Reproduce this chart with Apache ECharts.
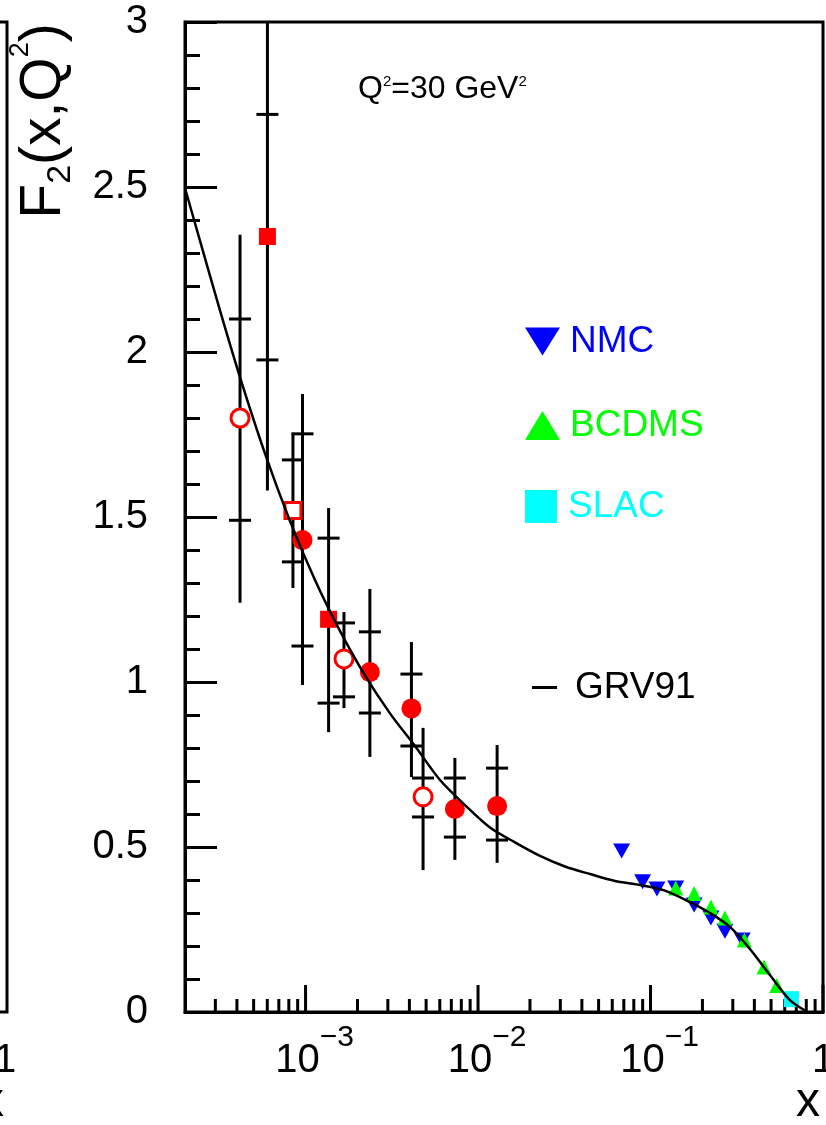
<!DOCTYPE html>
<html>
<head>
<meta charset="utf-8">
<script src="https://cdn.jsdelivr.net/npm/echarts@6/dist/echarts.min.js"></script>
<style>
  html, body { margin: 0; padding: 0; background: #ffffff; }
  #chart { width: 826px; height: 1125px; }
</style>
</head>
<body>
<div id="chart"></div>
<script>
// GRV91 parametrisation of F2 at Q^2 = 30 GeV^2
const grvX  = [2.0e-4, 2.44e-4, 3.19e-4, 4.17e-4, 5.82e-4, 8.12e-4, 1.134e-3, 1.583e-3, 2.211e-3,
               3.086e-3, 4.31e-3, 6.02e-3, 8.40e-3, 1.173e-2, 1.637e-2, 2.286e-2, 3.19e-2,
               4.455e-2, 6.22e-2, 8.68e-2, 0.1212, 0.1693, 0.2211, 0.2887, 0.3771, 0.4924, 0.643, 0.796];
const grvF2 = [2.497, 2.338, 2.126, 1.923, 1.692, 1.488, 1.309, 1.155, 1.020,
               0.905, 0.806, 0.703, 0.627, 0.559, 0.514, 0.473, 0.441,
               0.418, 0.397, 0.385, 0.368, 0.333, 0.300, 0.258, 0.191, 0.112, 0.036, 0.003];

// Fixed-target data
const nmcX    = [0.068, 0.090, 0.109, 0.14, 0.179, 0.224, 0.27, 0.34];
const nmcF2   = [0.488, 0.395, 0.373, 0.376, 0.324, 0.285, 0.245, 0.218];
const bcdmsX  = [0.14, 0.179, 0.224, 0.27, 0.35, 0.455, 0.54];
const bcdmsF2 = [0.376, 0.359, 0.318, 0.285, 0.218, 0.136, 0.080];
const slacX   = [0.656];
const slacF2  = [0.039];

// HERA small-x points: central value, statistical and total error ranges
const heraX      = [4.17e-4, 6.01e-4, 8.45e-4, 9.6e-4, 1.36e-3, 1.67e-3, 2.36e-3, 4.11e-3, 4.80e-3, 7.34e-3, 1.29e-2];
const heraF2     = [1.80, 2.35, 1.52, 1.43, 1.19, 1.07, 1.03, 0.92, 0.652, 0.615, 0.624];
const heraStatLo = [1.49, 1.976, 1.364, 1.109, 0.936, 0.955, 0.906, 0.806, 0.591, 0.530, 0.521];
const heraStatHi = [2.10, 2.72, 1.673, 1.752, 1.436, 1.179, 1.152, 1.024, 0.709, 0.709, 0.739];
const heraTotLo  = [1.24, 1.58, 1.285, 0.991, 0.848, 0.921, 0.773, 0.712, 0.430, 0.461, 0.452];
const heraTotHi  = [2.355, 3.12, 1.755, 1.873, 1.527, 1.212, 1.282, 1.121, 0.861, 0.770, 0.809];
const heraMarker = ['openCircle', 'square', 'openSquare', 'circle', 'square', 'openCircle',
                    'circle', 'circle', 'openCircle', 'circle', 'circle'];

// Axis ranges and tick positions
const xMin = 2e-4, xMax = 1;
const yMin = 0, yMax = 3, yStep = 0.5;
const xMajorTicks = [1e-3, 1e-2, 1e-1, 1];
const xMinorTicks = [3e-4, 4e-4, 5e-4, 6e-4, 7e-4, 8e-4, 9e-4,
                     2e-3, 3e-3, 4e-3, 5e-3, 6e-3, 7e-3, 8e-3, 9e-3,
                     2e-2, 3e-2, 4e-2, 5e-2, 6e-2, 7e-2, 8e-2, 9e-2,
                     0.2, 0.3, 0.4, 0.5, 0.6, 0.7, 0.8, 0.9];

const FONT = "'Liberation Sans', Arial, Helvetica, sans-serif";
const RED = '#ff0000', BLUE = '#0000ff', GREEN = '#00ff00', CYAN = '#00ffff';
const DOWN_TRIANGLE = 'path://M0,0L35,0L17.5,28Z';

function heraPoints(kind) {
  const out = [];
  heraX.forEach((x, i) => { if (heraMarker[i] === kind) out.push([x, heraF2[i]]); });
  return out;
}

function tickSeries(values, len) {
  return {
    type: 'custom', silent: true, z: 1,
    data: values.map(v => [v, yMin]),
    encode: { x: 0, y: 1 },
    renderItem: function (params, api) {
      const p = api.coord([api.value(0), yMin]);
      return {
        type: 'line',
        shape: { x1: p[0], y1: p[1], x2: p[0], y2: p[1] - len },
        style: { stroke: '#000', lineWidth: 3 }
      };
    }
  };
}

const chart = echarts.init(document.getElementById('chart'), null, { renderer: 'canvas' });

const option = {
  animation: false,
  backgroundColor: '#ffffff',
  grid: {
    left: 185, top: 22, right: 3, bottom: 113,
    containLabel: false, outerBoundsMode: 'none',
    show: true, borderColor: '#000', borderWidth: 3, backgroundColor: 'transparent'
  },
  xAxis: {
    type: 'log', logBase: 10, min: xMin, max: xMax,
    axisLine: { show: true, lineStyle: { color: '#000', width: 3 } },
    axisTick: { show: false },
    minorTick: { show: false },
    splitLine: { show: false },
    axisLabel: {
      show: true, interval: 0, margin: 14, color: '#000',
      fontFamily: FONT, showMinLabel: true, showMaxLabel: true,
      formatter: function (v) {
        const l = Math.log10(v);
        const e = Math.round(l);
        if (Math.abs(l - e) > 1e-6) return '';
        if (e === 0) return '{one|1}';
        return '{b|10}{s|\u2212' + (-e) + '}';
      },
      rich: {
        one: { fontSize: 40, fontFamily: FONT, color: '#000', height: 70, verticalAlign: 'top' },
        b: { fontSize: 40, fontFamily: FONT, color: '#000', height: 70, verticalAlign: 'top', padding: [0, 0, 0, 18] },
        s: { fontSize: 30, fontFamily: FONT, color: '#000', height: 23, verticalAlign: 'top' }
      }
    }
  },
  yAxis: {
    type: 'value', min: yMin, max: yMax, interval: yStep,
    axisLine: { show: true, lineStyle: { color: '#000', width: 3 } },
    axisTick: { show: true, inside: true, length: 32, lineStyle: { color: '#000', width: 3 } },
    minorTick: { show: true, splitNumber: 5, length: 15, lineStyle: { color: '#000', width: 3 } },
    splitLine: { show: false },
    minorSplitLine: { show: false },
    axisLabel: { fontSize: 40, fontFamily: FONT, color: '#000', margin: 37 }
  },
  legend: [
    {
      left: 525, top: 323, padding: 0, orient: 'vertical', selectedMode: false,
      itemWidth: 35, itemHeight: 29,
      textStyle: { fontSize: 37, fontFamily: FONT, lineHeight: 29, padding: [0, 0, 0, 5] },
      data: [{ name: 'NMC', icon: DOWN_TRIANGLE, textStyle: { color: BLUE } }]
    },
    {
      left: 525, top: 407, padding: 0, orient: 'vertical', selectedMode: false,
      itemWidth: 35, itemHeight: 29,
      textStyle: { fontSize: 37, fontFamily: FONT, lineHeight: 29, padding: [0, 0, 0, 5] },
      data: [{ name: 'BCDMS', icon: 'triangle', textStyle: { color: GREEN } }]
    },
    {
      left: 525, top: 488, padding: 0, orient: 'vertical', selectedMode: false,
      itemWidth: 32, itemHeight: 33,
      textStyle: { fontSize: 37, fontFamily: FONT, lineHeight: 33, padding: [0, 0, 0, 6] },
      data: [{ name: 'SLAC', icon: 'rect', textStyle: { color: CYAN } }]
    },
    {
      left: 532, top: 669, padding: 0, orient: 'vertical', selectedMode: false,
      itemWidth: 25, itemHeight: 3,
      textStyle: { fontSize: 37, fontFamily: FONT, lineHeight: 3, padding: [0, 0, 0, 13] },
      data: [{ name: 'GRV91', icon: 'rect', textStyle: { color: '#000' } }]
    }
  ],
  graphic: [
    // frame corner and labels of the neighbouring panel
    { type: 'rect', silent: true, shape: { x: -200, y: 22, width: 207, height: 990 },
      style: { fill: null, stroke: '#000', lineWidth: 3 } },
    { type: 'text', silent: true, x: 5, y: 1061,
      style: { text: '1', fontSize: 40, fontFamily: FONT, fill: '#000', align: 'center', verticalAlign: 'middle' } },
    { type: 'text', silent: true, x: 4, y: 1103,
      style: { text: 'x', fontSize: 48, fontFamily: FONT, fill: '#000', align: 'right', verticalAlign: 'middle' } },
    // x axis title
    { type: 'text', silent: true, x: 820, y: 1103,
      style: { text: 'x', fontSize: 48, fontFamily: FONT, fill: '#000', align: 'right', verticalAlign: 'middle' } },
    // y axis title, reading upwards
    { type: 'text', silent: true, x: -6, y: 121, rotation: Math.PI / 2,
      style: {
        text: '{m|F}{d|2}{m|(x,Q}{u|2}{m|)}',
        align: 'center', verticalAlign: 'top',
        rich: {
          m: { fontSize: 57, fontFamily: FONT, fill: '#000', color: '#000', height: 100, verticalAlign: 'top' },
          d: { fontSize: 34, fontFamily: FONT, fill: '#000', color: '#000', height: 133, verticalAlign: 'top' },
          u: { fontSize: 27, fontFamily: FONT, fill: '#000', color: '#000', height: 53, verticalAlign: 'top' }
        }
      } },
    // Q^2 annotation
    { type: 'text', silent: true, x: 358, y: 69,
      style: {
        text: '{m|Q}{u|2}{m|=30 GeV}{u|2}',
        align: 'left', verticalAlign: 'top',
        rich: {
          m: { fontSize: 32, fontFamily: FONT, fill: '#000', color: '#000', height: 40, verticalAlign: 'top' },
          u: { fontSize: 15, fontFamily: FONT, fill: '#000', color: '#000', height: 26, verticalAlign: 'top' }
        }
      } }
  ],
  series: [
    tickSeries(xMajorTicks, 27),
    tickSeries(xMinorTicks, 13),
    {
      name: 'HERA errors', type: 'custom', silent: true, z: 2,
      data: heraX.map((x, i) => [x, heraF2[i], heraStatLo[i], heraStatHi[i], heraTotLo[i], heraTotHi[i]]),
      encode: { x: 0, y: 1 },
      renderItem: function (params, api) {
        const x = api.value(0);
        const top = api.coord([x, Math.min(api.value(5), yMax)]);
        const bot = api.coord([x, Math.max(api.value(4), yMin)]);
        const s1 = api.coord([x, api.value(2)]);
        const s2 = api.coord([x, api.value(3)]);
        const hw = 11;
        const st = { stroke: '#000', lineWidth: 3 };
        return {
          type: 'group',
          children: [
            { type: 'line', shape: { x1: top[0], y1: top[1], x2: bot[0], y2: bot[1] }, style: st },
            { type: 'line', shape: { x1: s1[0] - hw, y1: s1[1], x2: s1[0] + hw, y2: s1[1] }, style: st },
            { type: 'line', shape: { x1: s2[0] - hw, y1: s2[1], x2: s2[0] + hw, y2: s2[1] }, style: st }
          ]
        };
      }
    },
    {
      name: 'HERA circles', type: 'scatter', z: 3, symbol: 'circle', symbolSize: 20,
      itemStyle: { color: RED, opacity: 1 }, data: heraPoints('circle')
    },
    {
      name: 'HERA squares', type: 'scatter', z: 3, symbol: 'rect', symbolSize: 17,
      itemStyle: { color: RED, opacity: 1 }, data: heraPoints('square')
    },
    {
      name: 'HERA open circles', type: 'scatter', z: 3, symbol: 'circle', symbolSize: 18,
      itemStyle: { color: '#ffffff', borderColor: RED, borderWidth: 3, opacity: 1 }, data: heraPoints('openCircle')
    },
    {
      name: 'HERA open squares', type: 'scatter', z: 3, symbol: 'rect', symbolSize: 16,
      itemStyle: { color: '#ffffff', borderColor: RED, borderWidth: 3, opacity: 1 }, data: heraPoints('openSquare')
    },
    {
      name: 'NMC', type: 'scatter', z: 4, symbol: DOWN_TRIANGLE, symbolSize: [17, 15],
      itemStyle: { color: BLUE, opacity: 1 }, data: nmcX.map((x, i) => [x, nmcF2[i]])
    },
    {
      name: 'BCDMS', type: 'scatter', z: 5, symbol: 'triangle', symbolSize: [15, 15],
      itemStyle: { color: GREEN, opacity: 1 }, data: bcdmsX.map((x, i) => [x, bcdmsF2[i]])
    },
    {
      name: 'SLAC', type: 'scatter', z: 6, symbol: 'rect', symbolSize: [15, 16],
      itemStyle: { color: CYAN, opacity: 1 }, data: slacX.map((x, i) => [x, slacF2[i]])
    },
    {
      name: 'GRV91', type: 'line', z: 7, showSymbol: false, symbol: 'none',
      smooth: 0.3,
      lineStyle: { color: '#000', width: 2.5 }, itemStyle: { color: '#000' },
      data: grvX.map((x, i) => [x, grvF2[i]])
    }
  ]
};

chart.setOption(option);
</script>
</body>
</html>
